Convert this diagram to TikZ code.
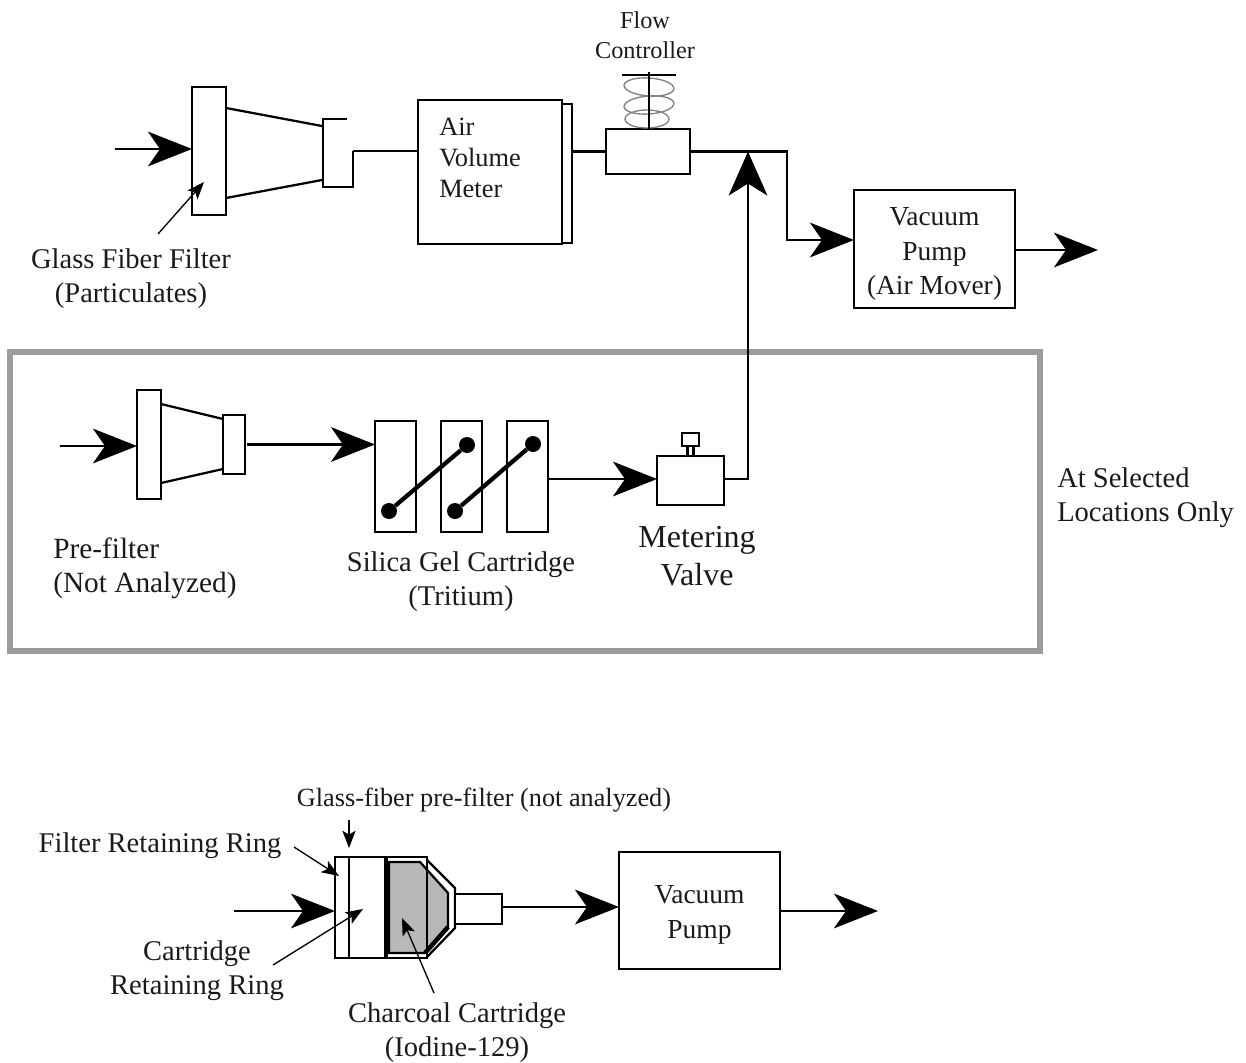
\documentclass[tikz,border=0pt]{standalone}
\usepackage{fontspec}
\usepackage{xcolor}
\setmainfont{Liberation Serif}
\usetikzlibrary{arrows.meta,positioning,calc}
\definecolor{framegray}{HTML}{9C9C9C}
\definecolor{springgray}{HTML}{808080}
\definecolor{charcoalgray}{HTML}{B8B8B8}
\definecolor{inkdark}{HTML}{1A1A1A}
\newcommand{\pxu}{0.75pt}

\begin{document}
\begin{tikzpicture}[
    x=0.75pt,y=-0.75pt,
    unit/.style={draw=black,fill=white,line width=1.7pt,inner sep=0pt,outer sep=0pt},
    lbl/.style={inner sep=0pt,align=center,text=inkdark,font=\fontsize{21.4pt}{25.6pt}\selectfont},
    flow/.style={line width=1.7pt,draw=black},
    arr/.style={flow,-{Stealth[length=33pt,width=26pt,inset=9pt]}},
    ptr/.style={line width=1pt,draw=black,-{Stealth[length=13pt,width=10pt,inset=3pt]}},
    link/.style={line width=3.2pt,draw=black},
    dot/.style={circle,fill=black,inner sep=0pt,minimum size=12pt}
  ]
    \useasboundingbox (0,0) rectangle (1246,1063);

    \node[draw=framegray,line width=5.2pt,minimum width=1030*\pxu,minimum height=299*\pxu,inner sep=0pt] (frame) at (525,501.5) {};

    \coordinate (airin) at (115,149);
    \node[unit,minimum width=34*\pxu,minimum height=128*\pxu] (plate) at (209,151) {};
    \coordinate (conetl) at (226,108);
    \coordinate (conetr) at (322,126);
    \coordinate (conebl) at (226,198);
    \coordinate (conebr) at (322,180);
    \coordinate (outlet) at (353,151);
    \draw[flow] (conetl) -- (conetr);
    \draw[flow] (conebl) -- (conebr);
    \draw[flow] (347,119) -- (323,119) -- (323,187) -- (353,187) -- (outlet);
    \node[unit,minimum width=144*\pxu,minimum height=139*\pxu] (meterback) at (500,173.5) {};
    \node[unit,minimum width=144*\pxu,minimum height=144*\pxu] (meter) at (490,172) {};
    \node[lbl,anchor=west,align=left,font=\fontsize{19.8pt}{23.2pt}\selectfont] (meterlabel) at (439,158) {Air\\Volume\\Meter};
    \node[unit,minimum width=84*\pxu,minimum height=45*\pxu] (fc) at (648,151.5) {};
    \draw[springgray,line width=1pt,rotate around={-4:(649,87)}] (649,87) ellipse (25 and 9);
    \draw[springgray,line width=1pt,rotate around={4:(649,105)}] (649,105) ellipse (25 and 9);
    \draw[springgray,line width=1pt] (647,119) ellipse (22 and 9);
    \coordinate (stemtop) at (649,72);
    \draw[flow] (stemtop) -- (stemtop |- fc.north);
    \draw[flow] (622,75) -- (676,75);
    \node[lbl,font=\fontsize{18.2pt}{22.5pt}\selectfont] (fclabel) at (645,35) {Flow\\Controller};
    \node[unit,minimum width=161*\pxu,minimum height=118*\pxu] (pump) at (934.5,249) {};
    \node[lbl,font=\fontsize{20.6pt}{25.9pt}\selectfont] (pumplabel) at (934.5,254) {Vacuum\\Pump\\(Air Mover)};
    \coordinate (pumpout) at (1098,250);
    \coordinate (junction) at (787,151.5);
    \draw[arr] (airin) -- (airin -| plate.west);
    \draw[flow] (outlet) -- (outlet -| meter.west);
    \draw[flow] (meterback.east |- fc.west) -- (fc.west);
    \draw[arr] (fc.east) -- (junction) |- (pump.west |- 0,240);
    \draw[arr] (pump.east |- pumpout) -- (pumpout);
    \node[lbl] (gfflabel) at (131,279) {Glass Fiber Filter\\(Particulates)};
    \coordinate (gfftail) at (158,234);
    \coordinate (gffhead) at (204,182);
    \draw[ptr] (gfftail) -- (gffhead);

    \coordinate (prein) at (60,446);
    \node[unit,minimum width=24*\pxu,minimum height=109*\pxu] (preplate) at (149,444.5) {};
    \node[unit,minimum width=22*\pxu,minimum height=59*\pxu] (preout) at (234,444.5) {};
    \draw[flow] (preplate.east |- 0,404) -- (preout.west |- 0,419);
    \draw[flow] (preplate.east |- 0,483) -- (preout.west |- 0,469);
    \node[unit,minimum width=41*\pxu,minimum height=111*\pxu] (silicaa) at (395.5,476.5) {};
    \node[unit,minimum width=41*\pxu,minimum height=111*\pxu,right=25*\pxu of silicaa] (silicab) {};
    \node[unit,minimum width=41*\pxu,minimum height=111*\pxu,right=25*\pxu of silicab] (silicac) {};
    \node[dot] (dota) at (389,511) {};
    \node[dot] (dotb) at (467,445) {};
    \node[dot] (dotc) at (455,511) {};
    \node[dot] (dotd) at (533,444) {};
    \draw[link] (dota) -- (dotb);
    \draw[link] (dotc) -- (dotd);
    \node[unit,minimum width=67*\pxu,minimum height=49*\pxu] (valve) at (690.5,480.5) {};
    \node[unit,minimum width=6*\pxu,minimum height=10*\pxu,above=0pt of valve] (valvestem) {};
    \node[unit,minimum width=17*\pxu,minimum height=13*\pxu,above=0pt of valvestem] (valveknob) {};
    \coordinate (valveup) at (748,479);
    \coordinate (valvetop) at (748,151.5);
    \draw[arr] (prein) -- (prein -| preplate.west);
    \draw[arr] ([xshift=1.5pt]preout.east) -- (preout.east -| silicaa.west);
    \draw[arr] (silicac.east |- valveup) -- (valveup -| valve.west);
    \draw[flow,-{Stealth[length=33pt,width=29pt,inset=9pt]}] (valveup -| valve.east) -- (valveup) -- (valvetop);
    \node[lbl,anchor=west,align=left,font=\fontsize{22pt}{25.6pt}\selectfont] (prelabel) at (53,568) {Pre-filter\\(Not Analyzed)};
    \node[lbl] (silicalabel) at (461,582) {Silica Gel Cartridge\\(Tritium)};
    \node[lbl,font=\fontsize{24pt}{28.5pt}\selectfont] (valvelabel) at (697,556) {Metering\\Valve};
    \node[lbl,anchor=west,align=left] (sellabel) at (1057,498) {At Selected\\Locations Only};

    \coordinate (chin) at (234,911);
    \node[unit,minimum width=92*\pxu,minimum height=101*\pxu] (chbody) at (381,907.5) {};
    \fill[white] (427,860) -- (455,888) -- (455,928) -- (427,957) -- cycle;
    \draw[flow,fill=charcoalgray] (389,862) -- (420,862) -- (448,893) -- (448,927) -- (425,953) -- (389,953) -- cycle;
    \draw[flow] (427,860) -- (455,888) -- (455,928) -- (427,957);
    \draw[line width=3.4pt] (448,927) -- (425,953);
    \draw[flow] (chbody.north -| 427,0) -- (chbody.south -| 427,0);
    \draw[flow] (chbody.north -| 349,0) -- (chbody.south -| 349,0);
    \draw[line width=3.5pt] (chbody.north -| 386,0) -- (chbody.south -| 386,0);
    \node[unit,minimum width=47*\pxu,minimum height=30*\pxu] (chout) at (478.5,909) {};
    \node[unit,minimum width=161*\pxu,minimum height=117*\pxu] (vacpump) at (699.5,910.5) {};
    \node[lbl,font=\fontsize{20.6pt}{26.2pt}\selectfont] (vacpumplabel) at (699.5,915) {Vacuum\\Pump};
    \coordinate (vacout) at (878,911);
    \draw[arr] (chin) -- (chin -| chbody.west);
    \draw[arr] ([yshift=1.5pt]chout.east) -- ([yshift=1.5pt]chout.east -| vacpump.west);
    \draw[arr] (vacpump.east |- vacout) -- (vacout);
    \node[lbl,font=\fontsize{19.7pt}{24pt}\selectfont] (gplabel) at (484,800) {Glass-fiber pre-filter (not analyzed)};
    \node[lbl] (frlabel) at (160,846) {Filter Retaining Ring};
    \node[lbl] (crlabel) at (197,971) {Cartridge\\Retaining Ring};
    \node[lbl] (cclabel) at (457,1033) {Charcoal Cartridge\\(Iodine-129)};
    \coordinate (gptail) at (349,820);
    \coordinate (gphead) at (349,848);
    \coordinate (frtail) at (294,847);
    \coordinate (frhead) at (339,876);
    \coordinate (crtail) at (273,965);
    \coordinate (crhead) at (363,909);
    \coordinate (cctail) at (434,993);
    \coordinate (cchead) at (402,918);
    \draw[ptr] (gptail) -- (gphead);
    \draw[ptr] (frtail) -- (frhead);
    \draw[ptr] (crtail) -- (crhead);
    \draw[ptr] (cctail) -- (cchead);
  \end{tikzpicture}
\end{document}
